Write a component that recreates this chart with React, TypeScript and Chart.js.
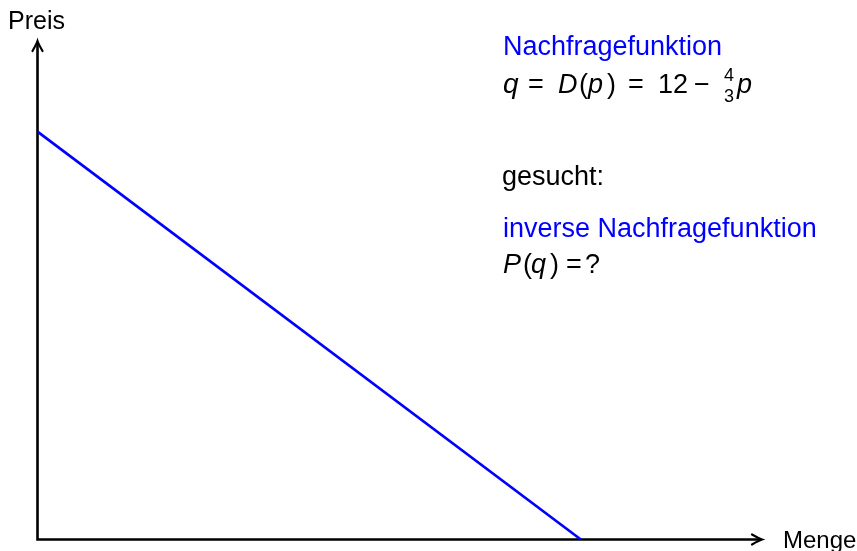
import React, { useEffect, useRef } from "react";
import { Chart, registerables } from "chart.js";

Chart.register(...registerables);

// Demand: q = 12 - 4/3 p  ->  inverse: p = 9 - 3/4 q
const quantities = [0, 12];
const prices = [9, 0];
const xRange = [0, 16];
const yRange = [0, 11];
const xAxisLabel = "Menge";
const yAxisLabel = "Preis";
const titleBlue = "Nachfragefunktion";
const searchLabel = "gesucht:";
const inverseLabel = "inverse Nachfragefunktion";

const BLUE = "#0000ff";
const FONT = '"Liberation Sans", Arial, sans-serif';

type Seg = { t: string; x: number; it?: boolean; size?: number; dy?: number };

const formula1: Seg[] = [
  { t: "q", x: 503, it: true, size: 28 },
  { t: "=", x: 528 },
  { t: "D", x: 558, it: true },
  { t: "(", x: 579 },
  { t: "p", x: 588, it: true },
  { t: ")", x: 607 },
  { t: "=", x: 628 },
  { t: "12", x: 658 },
  { t: "\u2212", x: 694 },
  { t: "4", x: 724, size: 18, dy: -12 },
  { t: "3", x: 724, size: 18, dy: 9 },
  { t: "p", x: 737, it: true },
];

const formula2: Seg[] = [
  { t: "P", x: 503, it: true },
  { t: "(", x: 523 },
  { t: "q", x: 531, it: true },
  { t: ")", x: 550 },
  { t: "=", x: 566 },
  { t: "?", x: 585 },
];

function drawArrowHead(ctx: CanvasRenderingContext2D, tx: number, ty: number, dx: number, dy: number) {
  const px = -dy, py = dx;
  const back = 10, side = 5;
  ctx.beginPath();
  ctx.moveTo(tx - dx * back + px * side, ty - dy * back + py * side);
  ctx.quadraticCurveTo(tx - dx * 3 + px * 1, ty - dy * 3 + py * 1, tx, ty);
  ctx.quadraticCurveTo(tx - dx * 3 - px * 1, ty - dy * 3 - py * 1, tx - dx * back - px * side, ty - dy * back - py * side);
  ctx.stroke();
}

function drawSegs(ctx: CanvasRenderingContext2D, segs: Seg[], baseline: number) {
  for (const s of segs) {
    const size = s.size ?? 27;
    ctx.font = `${s.it ? "italic " : ""}${size}px ${FONT}`;
    ctx.fillText(s.t, s.x, baseline + (s.dy ?? 0));
  }
}

const decorPlugin = {
  id: "decor",
  beforeDatasetsDraw(chart: any) {
    const ctx: CanvasRenderingContext2D = chart.ctx;
    const xs = chart.scales.x;
    const ys = chart.scales.y;
    const x0 = xs.getPixelForValue(xRange[0]);
    const x1 = xs.getPixelForValue(xRange[1]);
    const y0 = ys.getPixelForValue(yRange[0]);
    const y1 = ys.getPixelForValue(yRange[1]);
    ctx.save();
    ctx.strokeStyle = "#000";
    ctx.lineWidth = 2.6;
    ctx.lineCap = "butt";
    ctx.beginPath();
    ctx.moveTo(x0, y0 + 1.3);
    ctx.lineTo(x0, y1 + 1);
    ctx.moveTo(x0 - 1.3, y0);
    ctx.lineTo(x1 - 1, y0);
    ctx.stroke();
    ctx.lineCap = "round";
    ctx.lineWidth = 2.2;
    drawArrowHead(ctx, x0, y1, 0, -1);
    drawArrowHead(ctx, x1, y0, 1, 0);
    ctx.restore();
  },
  afterDraw(chart: any) {
    const ctx: CanvasRenderingContext2D = chart.ctx;
    const xs = chart.scales.x;
    const ys = chart.scales.y;
    const x1 = xs.getPixelForValue(xRange[1]);
    const y0 = ys.getPixelForValue(yRange[0]);
    ctx.save();
    ctx.textAlign = "left";
    ctx.textBaseline = "alphabetic";
    ctx.fillStyle = "#000";
    ctx.font = `25px ${FONT}`;
    ctx.fillText(yAxisLabel, 8, 29);
    ctx.font = `24px ${FONT}`;
    ctx.fillText(xAxisLabel, x1 + 21, y0 + 8);

    ctx.fillStyle = BLUE;
    ctx.font = `27px ${FONT}`;
    ctx.fillText(titleBlue, 503, 55);
    ctx.fillStyle = "#000";
    drawSegs(ctx, formula1, 93);

    ctx.font = `27px ${FONT}`;
    ctx.fillText(searchLabel, 502, 185);
    ctx.fillStyle = BLUE;
    ctx.fillText(inverseLabel, 503, 237);
    ctx.fillStyle = "#000";
    drawSegs(ctx, formula2, 273);
    ctx.restore();
  },
};

export default function App() {
  const ref = useRef<HTMLCanvasElement | null>(null);
  useEffect(() => {
    if (!ref.current) return;
    const chart = new Chart(ref.current, {
      type: "line",
      data: {
        datasets: [
          {
            data: quantities.map((q, i) => ({ x: q, y: prices[i] })),
            borderColor: BLUE,
            borderWidth: 2.6,
            pointRadius: 0,
            fill: false,
            tension: 0,
          },
        ],
      },
      options: {
        animation: false,
        responsive: false,
        devicePixelRatio: 1,
        layout: { padding: { left: 37.5, right: 95, top: 41, bottom: 11.5 } },
        plugins: { legend: { display: false }, tooltip: { enabled: false } },
        scales: {
          x: { type: "linear", min: xRange[0], max: xRange[1], display: false },
          y: { type: "linear", min: yRange[0], max: yRange[1], display: false },
        },
      },
      plugins: [decorPlugin],
    });
    return () => chart.destroy();
  }, []);
  return (
    <div style={{ position: "fixed", left: 0, top: 0, width: 857, height: 551, background: "#fff" }}>
      <canvas ref={ref} width={857} height={551} style={{ display: "block", width: 857, height: 551 }} />
    </div>
  );
}
